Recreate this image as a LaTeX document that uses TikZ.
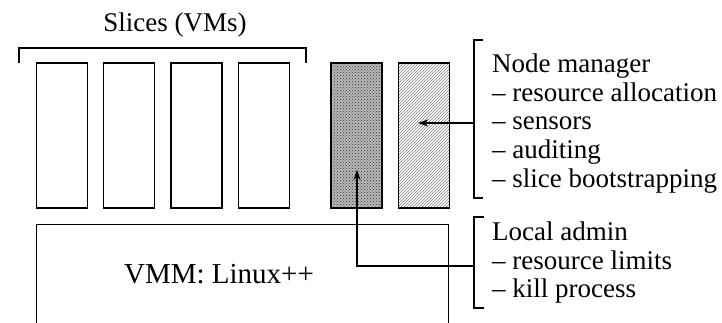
\documentclass[tikz,border=0pt]{standalone}
\usepackage{fontspec}
\setmainfont{Liberation Serif}
\usetikzlibrary{patterns,arrows.meta}
\begin{document}
\begin{tikzpicture}[x=1pt,y=-1pt,
  box/.style={draw,line width=1.4pt,minimum width=51pt,minimum height=145pt,inner sep=0pt},
  lbl/.style={anchor=base west,inner sep=0pt,font=\fontsize{27}{29}\selectfont},
  brk/.style={line width=1.4pt},
  arr/.style={line width=1.4pt,-{Stealth[length=10pt,width=7pt]}}]
\useasboundingbox (0,0) rectangle (722,323);
\clip (0,0) rectangle (722,323);
% slices
\node[box] (s1) at (62,135.5) {};
\node[box] (s2) at (129,135.5) {};
\node[box] (s3) at (196.5,135.5) {};
\node[box] (s4) at (264,135.5) {};
\node[box,preaction={fill=gray!55},pattern=crosshatch dots,pattern color=black!80] (la) at (356.5,135.5) {};
\node[box,pattern=north east lines,pattern color=black!50] (nm) at (424,135.5) {};
% slices bracket
\coordinate (sb1) at (19,63);
\coordinate (sb2) at (306,63);
\draw[brk] (sb1) -- (19,48) -- (306,48) -- (sb2);
\node[lbl,anchor=base] (slt) at (175,32) {Slices (VMs)};
% VMM
\node[draw,line width=1.4pt,minimum width=412pt,minimum height=200pt,inner sep=0pt,anchor=north west] (vmm) at (36,224) {};
\node[lbl,anchor=base,font=\fontsize{29}{31}\selectfont] (vmmt) at (219,283) {VMM: Linux++};
% node manager bracket
\draw[brk] (483,40) -- (474,40) -- (474,198) -- (483,198);
\node[lbl] (nm0) at (492,73) {Node manager};
\node[lbl] (nm1) at (492,101.5) {– resource allocation};
\node[lbl] (nm2) at (492,130) {– sensors};
\node[lbl] (nm3) at (492,158.5) {– auditing};
\node[lbl] (nm4) at (492,187) {– slice bootstrapping};
\coordinate (nmb) at (474,123);
\coordinate (nmtip) at (418,123);
\draw[arr] (nmb) -- (nmtip);
% local admin bracket
\draw[brk] (484,217) -- (474,217) -- (474,308) -- (484,308);
\node[lbl] (la0) at (492,240.5) {Local admin};
\node[lbl] (la1) at (492,269) {– resource limits};
\node[lbl] (la2) at (492,297) {– kill process};
\coordinate (lab) at (474,266);
\coordinate (latip) at (357,170);
\draw[arr] (lab) -| (latip);
\end{tikzpicture}
\end{document}
